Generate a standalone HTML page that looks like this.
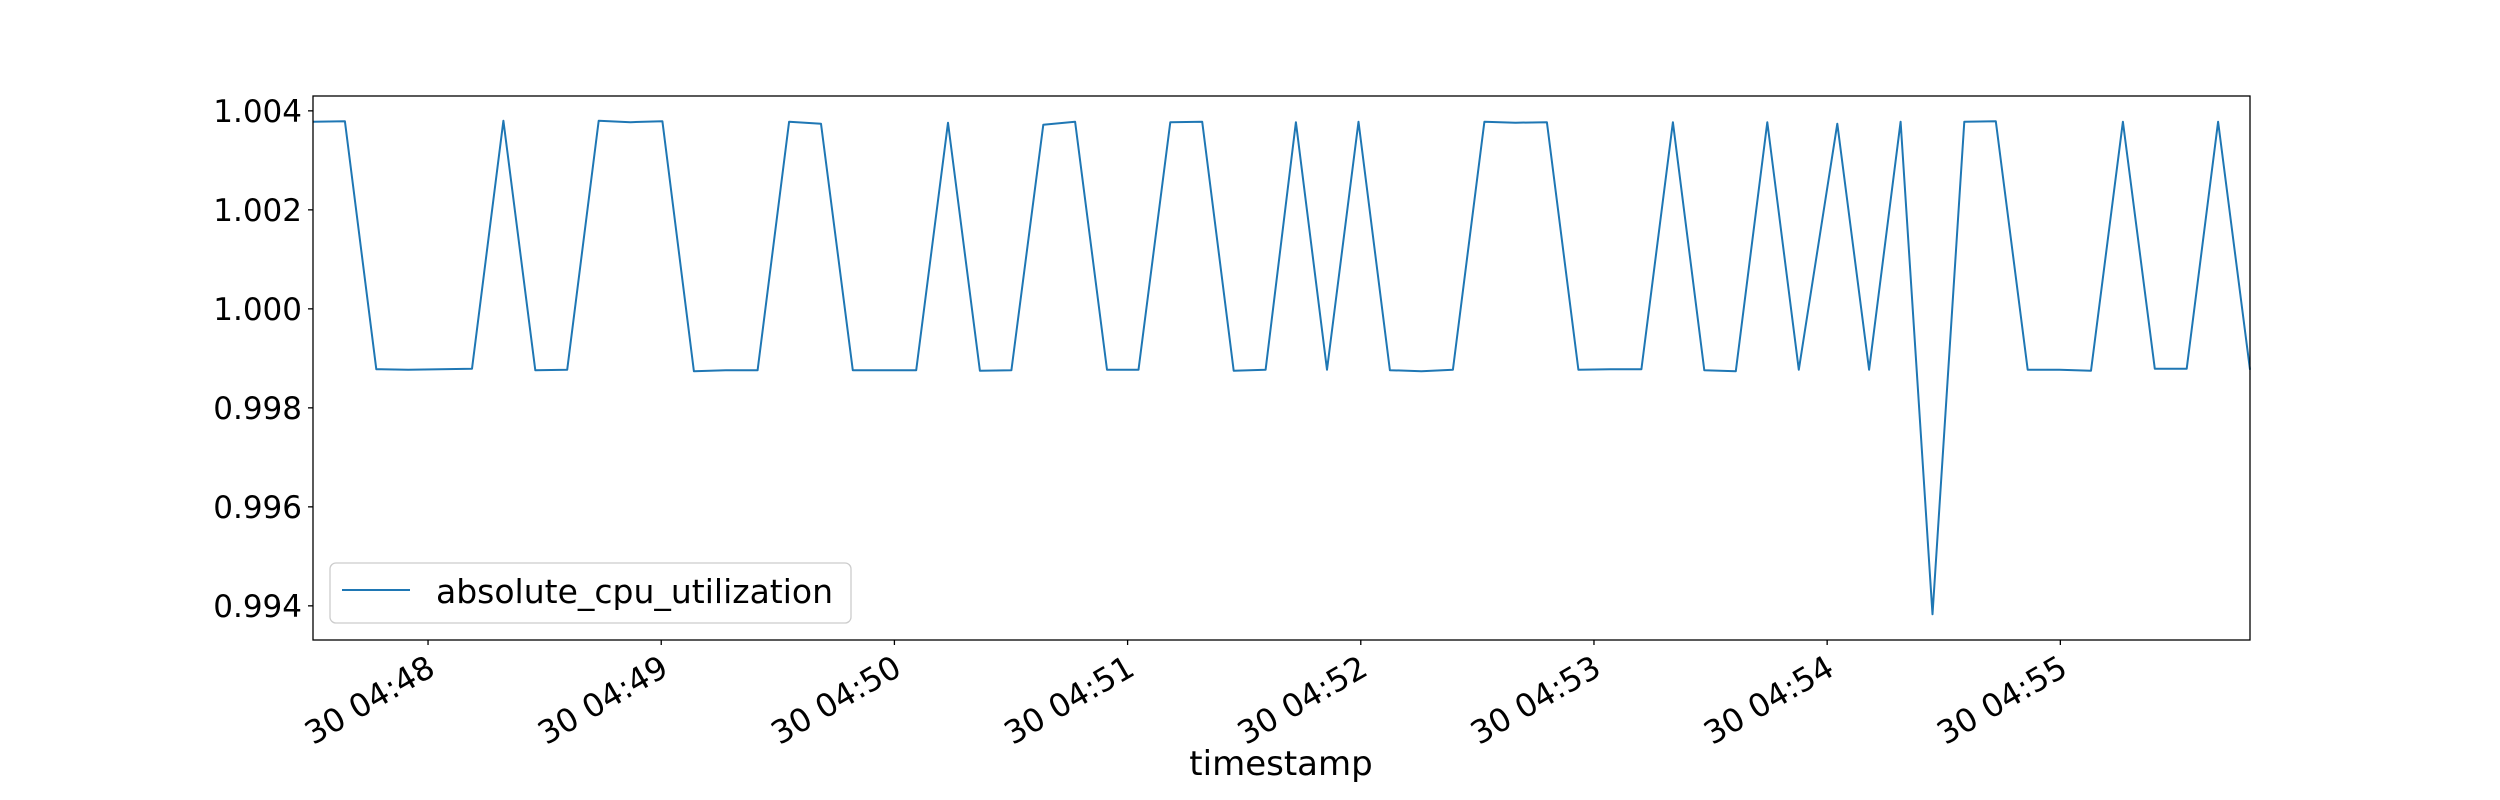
<!DOCTYPE html>
<html><head><meta charset="utf-8"><style>
html,body{margin:0;padding:0;background:#fff;}
svg{display:block;font-family:"DejaVu Sans","Liberation Sans",sans-serif;}
</style></head><body>
<svg id="chart" width="2500" height="800" viewBox="0 0 2500 800">
<rect x="0" y="0" width="2500" height="800" fill="#fff"/>
<g id="yticks"></g>
<g id="xticks"></g>
<g id="series"></g>
<rect x="313" y="96" width="1937" height="544" fill="none" stroke="#000" stroke-width="1.3"/>
<text x="1281" y="775" font-size="34" text-anchor="middle">timestamp</text>
<g>
<rect x="330" y="563" width="521" height="60" rx="6" fill="#fff" fill-opacity="0.8" stroke="#ccc" stroke-width="1.3"/>
<line x1="342" y1="590" x2="410" y2="590" stroke="#1f77b4" stroke-width="2"/>
<text x="436" y="603" font-size="33">absolute_cpu_utilization</text>
</g>
</svg>
<script>
// seconds after 04:47:30
const timesSec = [0.4,8.6,16.7,24.9,33.1,41.3,49.4,57.6,65.8,73.9,82.1,90.3,98.4,106.6,114.8,122.9,131.1,139.3,147.5,155.6,163.8,172.0,180.1,188.3,196.5,204.7,212.8,221.0,229.2,237.3,245.5,253.3,261.3,269.4,277.5,285.6,293.7,301.8,309.8,317.9,326.0,334.1,342.2,350.3,358.4,366.5,374.6,382.7,392.6,400.8,408.9,417.1,425.3,433.4,441.6,449.8,457.9,466.1,474.3,482.5,490.6,498.8];
const cpuValues = [1.00378,1.00379,0.99878,0.99877,0.99878,0.99879,1.00380,0.99876,0.99877,1.00380,1.00377,1.00379,0.99874,0.99876,0.99876,1.00378,1.00374,0.99876,0.99876,0.99876,1.00376,0.99875,0.99876,1.00372,1.00378,0.99877,0.99877,1.00377,1.00378,0.99875,0.99877,1.00377,0.99877,1.00378,0.99876,0.99874,0.99877,1.00378,1.00376,1.00377,0.99877,0.99878,0.99878,1.00377,0.99876,0.99874,1.00377,0.99877,1.00374,0.99877,1.00378,0.99383,1.00378,1.00379,0.99877,0.99877,0.99875,1.00378,0.99879,0.99879,1.00378,0.99877];
const yTickValues = [0.994,0.996,0.998,1.000,1.002,1.004];
const yTickLabels = ["0.994","0.996","0.998","1.000","1.002","1.004"];
const xTickSec = [30,90,150,210,270,330,390,450];
const xTickLabels = ["30 04:48","30 04:49","30 04:50","30 04:51","30 04:52","30 04:53","30 04:54","30 04:55"];

const NS="http://www.w3.org/2000/svg";
const X0=313,X1=2250,Y0=96,Y1=640;
const tMin=0.4,tMax=498.8;
const vMin=0.99331,vMax=1.00430;
function xs(t){return X0+(t-tMin)/(tMax-tMin)*(X1-X0);}
function ys(v){return Y1-(v-vMin)/(vMax-vMin)*(Y1-Y0);}

const yg=document.getElementById('yticks');
yTickValues.forEach((v,i)=>{
  const y=ys(v);
  const l=document.createElementNS(NS,'line');
  l.setAttribute('x1',X0-5);l.setAttribute('x2',X0);l.setAttribute('y1',y);l.setAttribute('y2',y);
  l.setAttribute('stroke','#000');l.setAttribute('stroke-width','1.3');
  
  
  yg.appendChild(l);
  const t=document.createElementNS(NS,'text');
  t.setAttribute('x',X0-11);t.setAttribute('y',y+11);t.setAttribute('text-anchor','end');t.setAttribute('font-size','31');
  t.textContent=yTickLabels[i];
  
  
  yg.appendChild(t);
});

const xg=document.getElementById('xticks');
xTickSec.forEach((s,i)=>{
  const x=xs(s);
  const l=document.createElementNS(NS,'line');
  l.setAttribute('x1',x);l.setAttribute('x2',x);l.setAttribute('y1',Y1);l.setAttribute('y2',Y1+5);
  l.setAttribute('stroke','#000');l.setAttribute('stroke-width','1.3');
  
  
  xg.appendChild(l);
  const t=document.createElementNS(NS,'text');
  t.setAttribute('transform','translate('+(x-3)+','+(Y1+13)+') rotate(-30)');
  t.setAttribute('text-anchor','end');t.setAttribute('font-size','32');t.setAttribute('dy','0.75em');
  t.textContent=xTickLabels[i];
  
  
  xg.appendChild(t);
});

const sg=document.getElementById('series');
const p=document.createElementNS(NS,'polyline');
p.setAttribute('points',timesSec.map((t,i)=>xs(t).toFixed(1)+','+ys(cpuValues[i]).toFixed(1)).join(' '));
p.setAttribute('fill','none');p.setAttribute('stroke','#1f77b4');p.setAttribute('stroke-width','2');p.setAttribute('stroke-linejoin','round');


sg.appendChild(p);
</script>
</body></html>
